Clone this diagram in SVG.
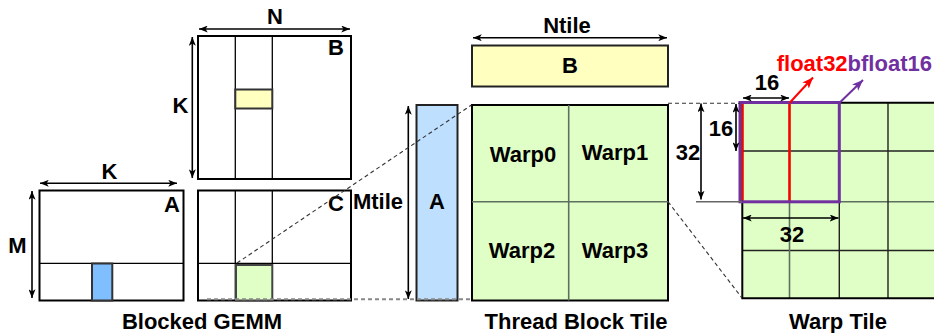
<svg xmlns="http://www.w3.org/2000/svg" width="934" height="333" viewBox="0 0 934 333">
  <defs>
    <style>
      text { font-family: "Liberation Sans", Arial, sans-serif; font-weight: bold; font-size: 22px; fill: #000; }
      .mid { text-anchor: middle; }
      .box { fill: #fff; stroke: #000; stroke-width: 2; }
      .thin { stroke: #000; stroke-width: 1.3; fill: none; }
      .grid { stroke: #222; stroke-width: 1.4; fill: none; }
      .gridg { stroke: #5f6f5f; stroke-width: 1.6; fill: none; }
      .green { fill: #e0ffc6; }
      .dim { stroke: #000; stroke-width: 1.6; fill: none; marker-start: url(#ah); marker-end: url(#ah); }
      .dash { stroke: #333; stroke-width: 1.1; stroke-dasharray: 4 3; fill: none; }
      .dashg { stroke: #888; stroke-width: 2; stroke-dasharray: 4 3; fill: none; }
    </style>
    <marker id="ah" viewBox="0 0 10 8" refX="10" refY="4" markerWidth="9" markerHeight="7" markerUnits="userSpaceOnUse" orient="auto-start-reverse">
      <path d="M0,0 L10,4 L0,8 L2.5,4 z" fill="#000"/>
    </marker>
    <marker id="ahRed" viewBox="0 0 10 8" refX="10" refY="4" markerWidth="11" markerHeight="9" markerUnits="userSpaceOnUse" orient="auto">
      <path d="M0,0 L10,4 L0,8 L2.5,4 z" fill="#ff0000"/>
    </marker>
    <marker id="ahPurple" viewBox="0 0 10 8" refX="10" refY="4" markerWidth="11" markerHeight="9" markerUnits="userSpaceOnUse" orient="auto">
      <path d="M0,0 L10,4 L0,8 L2.5,4 z" fill="#7030a0"/>
    </marker>
  </defs>

  <rect width="934" height="333" fill="#fff"/>

  <!-- Blocked GEMM: matrix B -->
  <g id="matB">
    <rect class="box" x="198" y="36" width="153" height="143"/>
    <line class="thin" x1="235.3" y1="36" x2="235.3" y2="179"/>
    <line class="thin" x1="272.3" y1="36" x2="272.3" y2="179"/>
    <rect x="235.3" y="89.5" width="37" height="19" fill="#ffffbf" stroke="#333" stroke-width="2"/>
    <text x="344" y="55" text-anchor="end">B</text>
  </g>

  <!-- Blocked GEMM: matrix A -->
  <g id="matA">
    <rect class="box" x="39.5" y="190.5" width="144" height="110"/>
    <line class="thin" x1="39.5" y1="263.3" x2="183.5" y2="263.3"/>
    <rect x="92" y="263.5" width="20.3" height="37" fill="#80bfff" stroke="#333" stroke-width="2"/>
    <text x="180" y="212" text-anchor="end">A</text>
  </g>

  <!-- Blocked GEMM: matrix C -->
  <g id="matC">
    <rect class="box" x="198" y="190.5" width="153" height="110"/>
    <line class="thin" x1="235.3" y1="190.5" x2="235.3" y2="300.5"/>
    <line class="thin" x1="272.3" y1="190.5" x2="272.3" y2="300.5"/>
    <line class="thin" x1="198" y1="263.3" x2="351" y2="263.3"/>
    <rect x="236" y="265" width="36.3" height="35.5" fill="#e0ffc6" stroke="#444" stroke-width="2"/>
    <text x="344" y="211" text-anchor="end">C</text>
  </g>

  <!-- Thread block tile: A strip -->
  <g id="tileA">
    <rect x="416.5" y="105" width="41" height="195.5" fill="#bfdfff" stroke="#222" stroke-width="2"/>
    <text class="mid" x="437" y="209.3">A</text>
  </g>

  <!-- Thread block tile: B strip -->
  <g id="tileB">
    <rect x="472" y="45.5" width="196" height="41" fill="#ffffc0" stroke="#222" stroke-width="2"/>
    <text class="mid" x="570" y="73.3">B</text>
  </g>

  <!-- Thread block tile: warps -->
  <g id="tileC">
    <rect class="green" x="472" y="105" width="196" height="195.5" stroke="#000" stroke-width="2"/>
    <line class="gridg" x1="568.7" y1="105" x2="568.7" y2="300.5"/>
    <line class="gridg" x1="472" y1="201.7" x2="668" y2="201.7"/>
    <text class="mid" x="523" y="161.5">Warp0</text>
    <text class="mid" x="615" y="160">Warp1</text>
    <text class="mid" x="522" y="258.3">Warp2</text>
    <text class="mid" x="615" y="258">Warp3</text>
  </g>

  <!-- Warp tile: fragment grid -->
  <g id="warpTile">
    <rect class="green" x="742.3" y="102.7" width="200" height="195.6"/>
    <line class="grid" x1="742.3" y1="151" x2="934" y2="151"/>
    <line class="gridg" x1="742.3" y1="201.7" x2="934" y2="201.7"/>
    <line class="grid" x1="742.3" y1="250.5" x2="934" y2="250.5"/>
    <line class="gridg" x1="789.5" y1="102.7" x2="789.5" y2="298.3"/>
    <line class="grid" x1="839.3" y1="102.7" x2="839.3" y2="298.3"/>
    <line class="grid" x1="888" y1="102.7" x2="888" y2="298.3"/>
    <path d="M742.3,102.7 H934 M742.3,102.7 V298.3 H934" stroke="#000" stroke-width="2" fill="none"/>
    <!-- float32 accumulator fragment (red) inside the bfloat16 fragment (purple) -->
    <line x1="789.5" y1="102.5" x2="789.5" y2="201.7" stroke="#ff0000" stroke-width="2.5"/>
    <rect x="740" y="102.5" width="99.3" height="99.3" fill="none" stroke="#7030a0" stroke-width="3"/>
    <line x1="742.6" y1="104" x2="742.6" y2="200.3" stroke="#ff0000" stroke-width="2"/>
  </g>

  <!-- Connectors, dimension arrows and zoom guides -->
  <g id="connectors">
    <!-- Blocked GEMM dimensions -->
    <line class="dim" x1="199" y1="29" x2="350" y2="29"/>
    <line class="dim" x1="192.3" y1="37" x2="192.3" y2="178"/>
    <line class="dim" x1="40" y1="183.3" x2="177" y2="183.3"/>
    <line class="dim" x1="32" y1="191" x2="32" y2="298"/>
    <!-- Thread block tile dimensions -->
    <line class="dim" x1="473" y1="37.7" x2="667" y2="37.7"/>
    <line class="dim" x1="408.3" y1="106" x2="408.3" y2="299"/>
    <!-- Warp tile dimensions -->
    <line class="dim" x1="701" y1="103.5" x2="701" y2="199.5"/>
    <line class="dim" x1="736" y1="104" x2="736" y2="151"/>
    <line class="dim" x1="743" y1="98" x2="789" y2="98"/>
    <line class="dim" x1="743" y1="218" x2="838.5" y2="218"/>
    <line x1="696" y1="201.7" x2="742" y2="201.7" stroke="#666" stroke-width="1.6"/>
    <!-- zoom guides: C block to thread block tile -->
    <line class="dash" x1="237" y1="263" x2="471.5" y2="105"/>
    <line class="dashg" x1="207" y1="299.3" x2="471.5" y2="299.3"/>
    <!-- zoom guides: warp to warp tile -->
    <line class="dash" x1="668" y1="103.3" x2="740" y2="103.3"/>
    <line class="dash" x1="668" y1="201.7" x2="742" y2="298"/>
    <!-- precision callouts -->
    <line x1="789.5" y1="103" x2="813" y2="77.5" stroke="#ff0000" stroke-width="2" marker-end="url(#ahRed)"/>
    <line x1="839.3" y1="103" x2="863" y2="80" stroke="#7030a0" stroke-width="2" marker-end="url(#ahPurple)"/>
  </g>

  <!-- Labels -->
  <g id="labels">
    <text class="mid" x="275" y="24">N</text>
    <text class="mid" x="180.5" y="113">K</text>
    <text class="mid" x="109.5" y="179">K</text>
    <text class="mid" x="17.5" y="253">M</text>
    <text class="mid" x="567" y="33.3">Ntile</text>
    <text class="mid" x="378" y="209.3">Mtile</text>
    <text class="mid" x="688" y="160">32</text>
    <text class="mid" x="721" y="135.7">16</text>
    <text class="mid" x="767" y="90">16</text>
    <text class="mid" x="792" y="242">32</text>
    <text x="776.7" y="70.7"><tspan fill="#ff0000">float32</tspan><tspan fill="#7030a0">bfloat16</tspan></text>
    <text class="mid" x="202" y="329.3">Blocked GEMM</text>
    <text class="mid" x="576" y="329.3">Thread Block Tile</text>
    <text class="mid" x="838" y="329.3">Warp Tile</text>
  </g>
</svg>
